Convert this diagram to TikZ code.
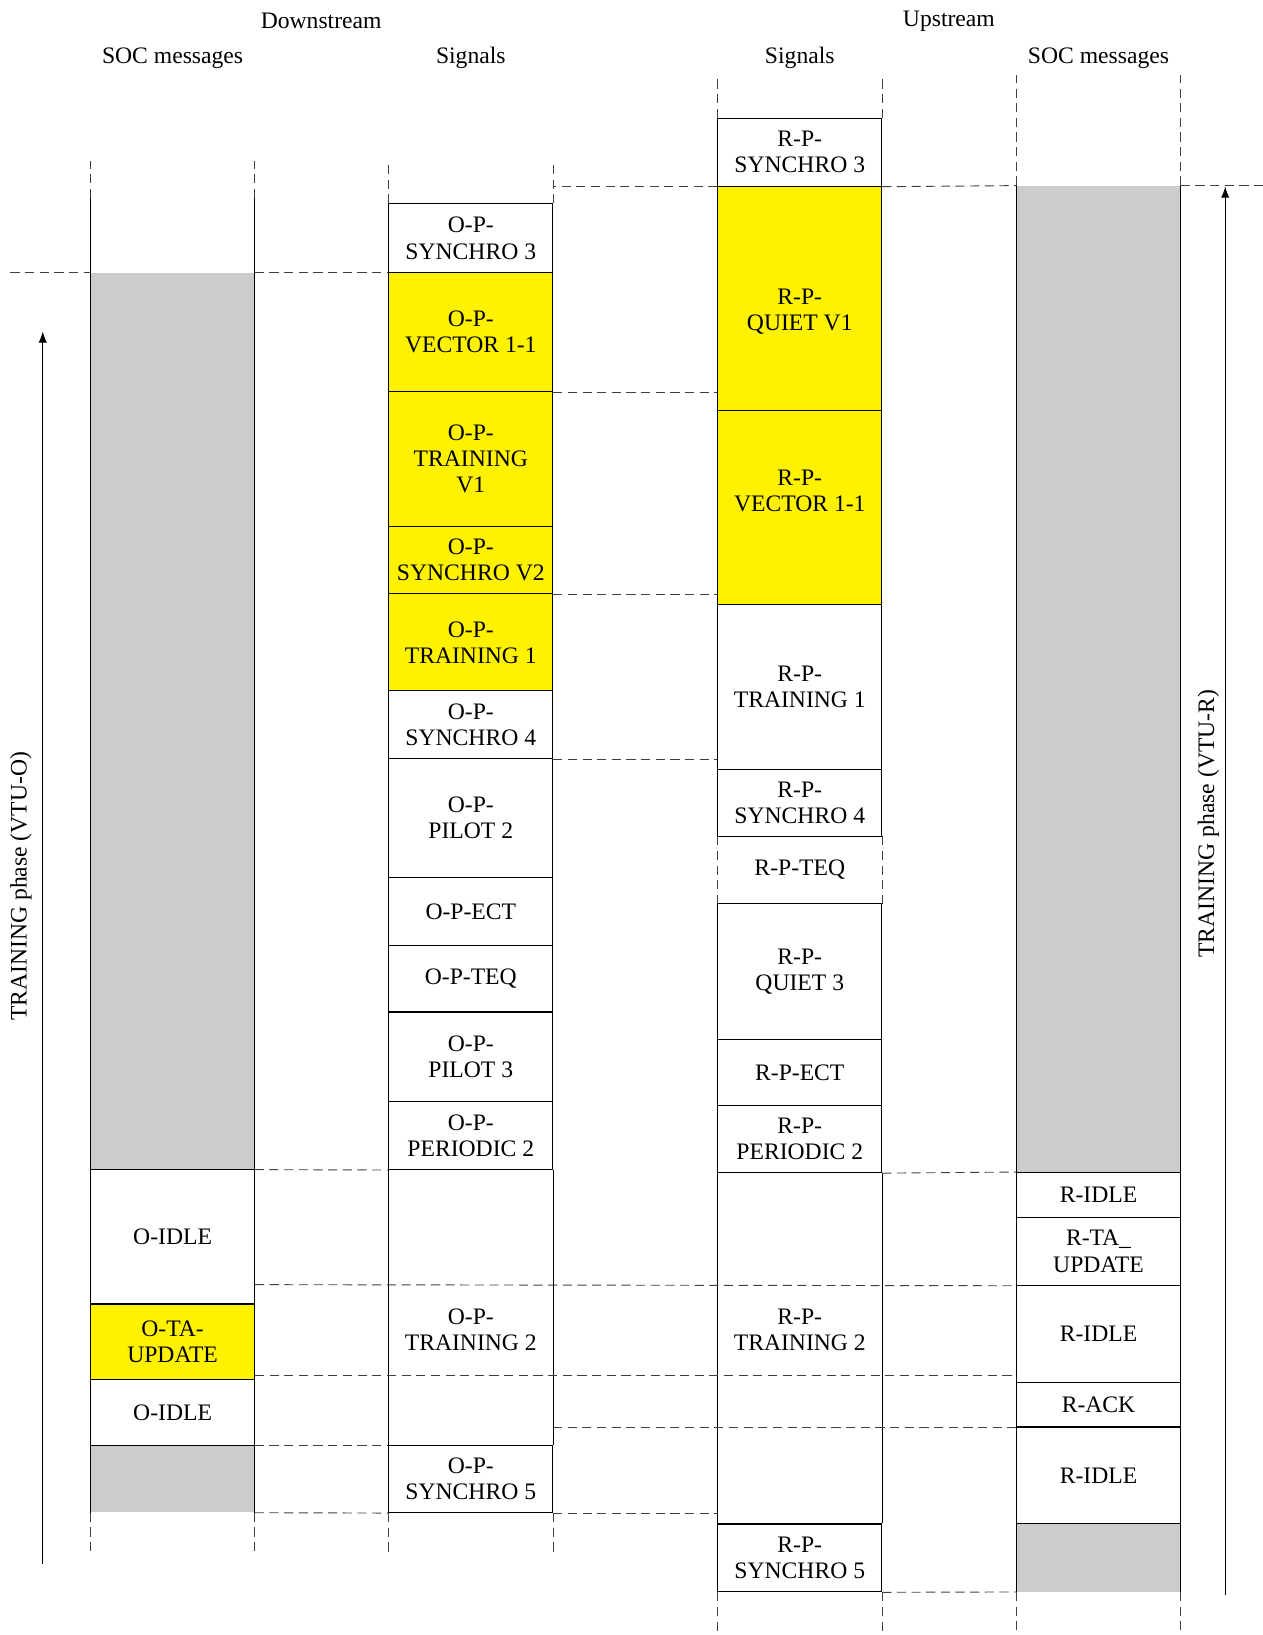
\documentclass[tikz,border=0pt]{standalone}
\usepackage{fontspec}
\setmainfont{Liberation Serif}
\usepackage{tikz}
\usetikzlibrary{arrows.meta,calc,positioning}
\usepackage{xcolor}
\newcommand{\myunit}{0.02cm}
\newcommand{\colw}{157}
\tikzset{
    boxsty/.style={draw,fill=white,rectangle,anchor=north,minimum width=\colw*\myunit,inner sep=0pt,align=center,line width=0.6pt},
    ylwsty/.style={boxsty,fill=yellow},
    graysty/.style={fill=gray!40,rectangle,anchor=north,minimum width=\colw*\myunit,inner sep=0pt},
    txtsty/.style={rectangle,anchor=north,minimum width=\colw*\myunit,inner sep=0pt,align=center},
    tall/.style={minimum height=#1*\myunit},
    dashsty/.style={draw=black!75,dash pattern=on 5pt off 3pt,line width=0.5pt},
    sidesty/.style={draw=black,line width=0.6pt},
    hdrsty/.style={inner sep=0pt,anchor=base},
}

\begin{document}
\begin{tikzpicture}[>={Latex[length=6pt,width=4.5pt]}, x=\myunit, y=-\myunit,
    font=\fontsize{12.9}{14.2}\selectfont]
  \useasboundingbox (0,0) rectangle (1211,1568);
  \coordinate (ledge) at (10,0);
  \coordinate (redge) at (1211,0);

  % headings
  \node[hdrsty] (hdown) at (308,27.5) {Downstream};
  \node[hdrsty] (hup)   at (910,25.5) {Upstream};
  \node[hdrsty] (hsoca) at (165.5,60.5) {SOC messages};
  \node[hdrsty] (hsiga) at (451.5,60.5) {Signals};
  \node[hdrsty] (hsigb) at (767,60.5) {Signals};
  \node[hdrsty] (hsocb) at (1053.5,60.5) {SOC messages};

  % downstream SOC messages
  \node[graysty,tall=860] (agray1) at (165.5,261) {};
  \node[boxsty,tall=129]  (aidle1) at (165.5,1121) {O-IDLE};
  \node[ylwsty,tall=72]   (ata)    at (165.5,1250) {O-TA-\\UPDATE};
  \node[boxsty,tall=64]   (aidle2) at (165.5,1322) {O-IDLE};
  \node[graysty,tall=64]  (agray2) at (165.5,1386) {};
  \draw[sidesty] (agray1.north west) ++(0,-71) -- (agray1.south west);
  \draw[sidesty] (agray1.north east) ++(0,-71) -- (agray1.south east);
  \draw[sidesty] (agray2.north west) -- (agray2.south west);
  \draw[sidesty] (agray2.north east) -- (agray2.south east);

  % downstream signals
  \node[boxsty,tall=66]  (bs3)  at (451.5,195) {O-P-\\SYNCHRO 3};
  \node[ylwsty,tall=114] (bv11) at (451.5,261) {O-P-\\VECTOR 1-1};
  \node[ylwsty,tall=129] (btv1) at (451.5,375) {O-P-\\TRAINING\\V1};
  \node[ylwsty,tall=65]  (bsv2) at (451.5,504) {O-P-\\SYNCHRO V2};
  \node[ylwsty,tall=93]  (bt1)  at (451.5,569) {O-P-\\TRAINING 1};
  \node[boxsty,tall=65]  (bs4)  at (451.5,662) {O-P-\\SYNCHRO 4};
  \node[boxsty,tall=114] (bpl2) at (451.5,727) {O-P-\\PILOT 2};
  \node[boxsty,tall=65]  (bect) at (451.5,841) {O-P-ECT};
  \node[boxsty,tall=64]  (bteq) at (451.5,906) {O-P-TEQ};
  \node[boxsty,tall=86]  (bpl3) at (451.5,970) {O-P-\\PILOT 3};
  \node[boxsty,tall=65]  (bp2)  at (451.5,1056) {O-P-\\PERIODIC 2};
  \node[txtsty,tall=86]  (bt2)  at (451.5,1232) {O-P-\\TRAINING 2};
  \node[boxsty,tall=64]  (bs5)  at (451.5,1386) {O-P-\\SYNCHRO 5};
  \draw[sidesty] (bp2.south west) -- (bs5.north west);
  \draw[sidesty] (bp2.south east) -- (bs5.north east);

  % upstream signals
  \node[boxsty,tall=65]  (cs3)  at (767,113) {R-P-\\SYNCHRO 3};
  \node[ylwsty,tall=215] (cq1)  at (767,178) {};
  \node[ylwsty,tall=186] (cv11) at (767,393) {};
  \node[txtsty,anchor=center] (cq1t)  at ($(cq1.center)+(0,13)$) {R-P-\\QUIET V1};
  \node[txtsty,anchor=center] (cv11t) at ($(cv11.center)+(0,-16)$) {R-P-\\VECTOR 1-1};
  \node[boxsty,tall=158] (ct1)  at (767,579) {R-P-\\TRAINING 1};
  \node[boxsty,tall=65]  (cs4)  at (767,737) {R-P-\\SYNCHRO 4};
  \node[txtsty,tall=64]  (cteq) at (767,802) {R-P-TEQ};
  \node[boxsty,tall=130] (cq3)  at (767,866) {R-P-\\QUIET 3};
  \node[boxsty,tall=64]  (cect) at (767,996) {R-P-ECT};
  \node[boxsty,tall=64]  (cp2)  at (767,1060) {R-P-\\PERIODIC 2};
  \node[txtsty,tall=86]  (ct2)  at (767,1232) {R-P-\\TRAINING 2};
  \node[boxsty,tall=65]  (cs5)  at (767,1461) {R-P-\\SYNCHRO 5};
  \draw[dashsty] (cteq.north west) -- (cteq.south west);
  \draw[dashsty] (cteq.north east) -- (cteq.south east);
  \draw[sidesty] (cp2.south west) -- (cs5.north west);
  \draw[sidesty] (cp2.south east) -- (cs5.north east);

  % upstream SOC messages
  \node[graysty,tall=946] (dgray1) at (1053.5,178) {};
  \node[boxsty,tall=43]   (didle1) at (1053.5,1124) {R-IDLE};
  \node[boxsty,tall=65]   (dta)    at (1053.5,1167) {R-TA\_\\UPDATE};
  \node[boxsty,tall=93]   (didle2) at (1053.5,1232) {R-IDLE};
  \node[boxsty,tall=43]   (dack)   at (1053.5,1325) {R-ACK};
  \node[boxsty,tall=93]   (didle3) at (1053.5,1368) {R-IDLE};
  \node[graysty,tall=65]  (dgray2) at (1053.5,1461) {};
  \draw[sidesty] (dgray1.north west) -- (dgray1.south west);
  \draw[sidesty] (dgray1.north east) -- (dgray1.south east);
  \draw[sidesty] (dgray2.north west) -- (dgray2.south west);
  \draw[sidesty] (dgray2.north east) -- (dgray2.south east);

  % column ends
  \draw[dashsty] (agray1.north west) ++(0,-71) -- ++(0,-36);
  \draw[dashsty] (agray1.north east) ++(0,-71) -- ++(0,-36);
  \draw[dashsty] (agray2.south west) -- ++(0,42);
  \draw[dashsty] (agray2.south east) -- ++(0,42);
  \draw[dashsty] (bs3.north west) -- ++(0,-40);
  \draw[dashsty] (bs3.north east) -- ++(0,-40);
  \draw[dashsty] (bs5.south west) -- ++(0,42);
  \draw[dashsty] (bs5.south east) -- ++(0,42);
  \draw[dashsty] (cs3.north west) -- ++(0,-41);
  \draw[dashsty] (cs3.north east) -- ++(0,-41);
  \draw[dashsty] (cs5.south west) -- ++(0,42);
  \draw[dashsty] (cs5.south east) -- ++(0,42);
  \draw[dashsty] (dgray1.north west) -- ++(0,-106);
  \draw[dashsty] (dgray1.north east) -- ++(0,-106);
  \draw[dashsty] (dgray2.south west) -- ++(0,40);
  \draw[dashsty] (dgray2.south east) -- ++(0,40);

  % time alignment
  \draw[dashsty] (cs3.south west) -- (bs3.east |- cs3.south west);
  \draw[dashsty] (cs3.south east) -- (dgray1.north west);
  \draw[dashsty] (dgray1.north east) -- (redge |- dgray1.north east);
  \draw[dashsty] (ledge |- agray1.north west) -- (agray1.north west);
  \draw[dashsty] (agray1.north east) -- (bv11.north west);
  \draw[dashsty] (bv11.south east) -- (bv11.south east -| cq1.west);
  \draw[dashsty] (bsv2.south east) -- (bsv2.south east -| cv11.west);
  \draw[dashsty] (bs4.south east) -- (bs4.south east -| ct1.west);
  \draw[dashsty] (agray1.south east) -- (bp2.south west);
  \draw[dashsty] (cp2.south east) -- (didle1.north west);
  \draw[dashsty] (bt2.north -| aidle1.east) -- (dta.south west);
  \draw[dashsty] (bt2.south -| aidle1.east) -- (bt2.south -| dack.west);
  \draw[dashsty] (bt2.east |- dack.south west) -- (dack.south west);
  \draw[dashsty] (agray2.north east) -- (bs5.north west);
  \draw[dashsty] (agray2.south east) -- (bs5.south west);
  \draw[dashsty] (bs5.south east) -- (bs5.south east -| cs5.west);
  \draw[dashsty] (cs5.south east) -- (dgray2.south west);

  % training phases
  \coordinate (vtuo-s) at (41,1500);
  \coordinate (vtuo-e) at (41,318);
  \coordinate (vtur-s) at (1175,1530);
  \coordinate (vtur-e) at (1175,179);
  \draw[->,line width=0.5pt] (vtuo-s) -- (vtuo-e);
  \draw[->,line width=0.5pt] (vtur-s) -- (vtur-e);
  \node[inner sep=0pt,rotate=90] (vtuo) at (20,850) {TRAINING phase (VTU-O)};
  \node[inner sep=0pt,rotate=90] (vtur) at (1159,790) {TRAINING phase (VTU-R)};
\end{tikzpicture}
\end{document}
